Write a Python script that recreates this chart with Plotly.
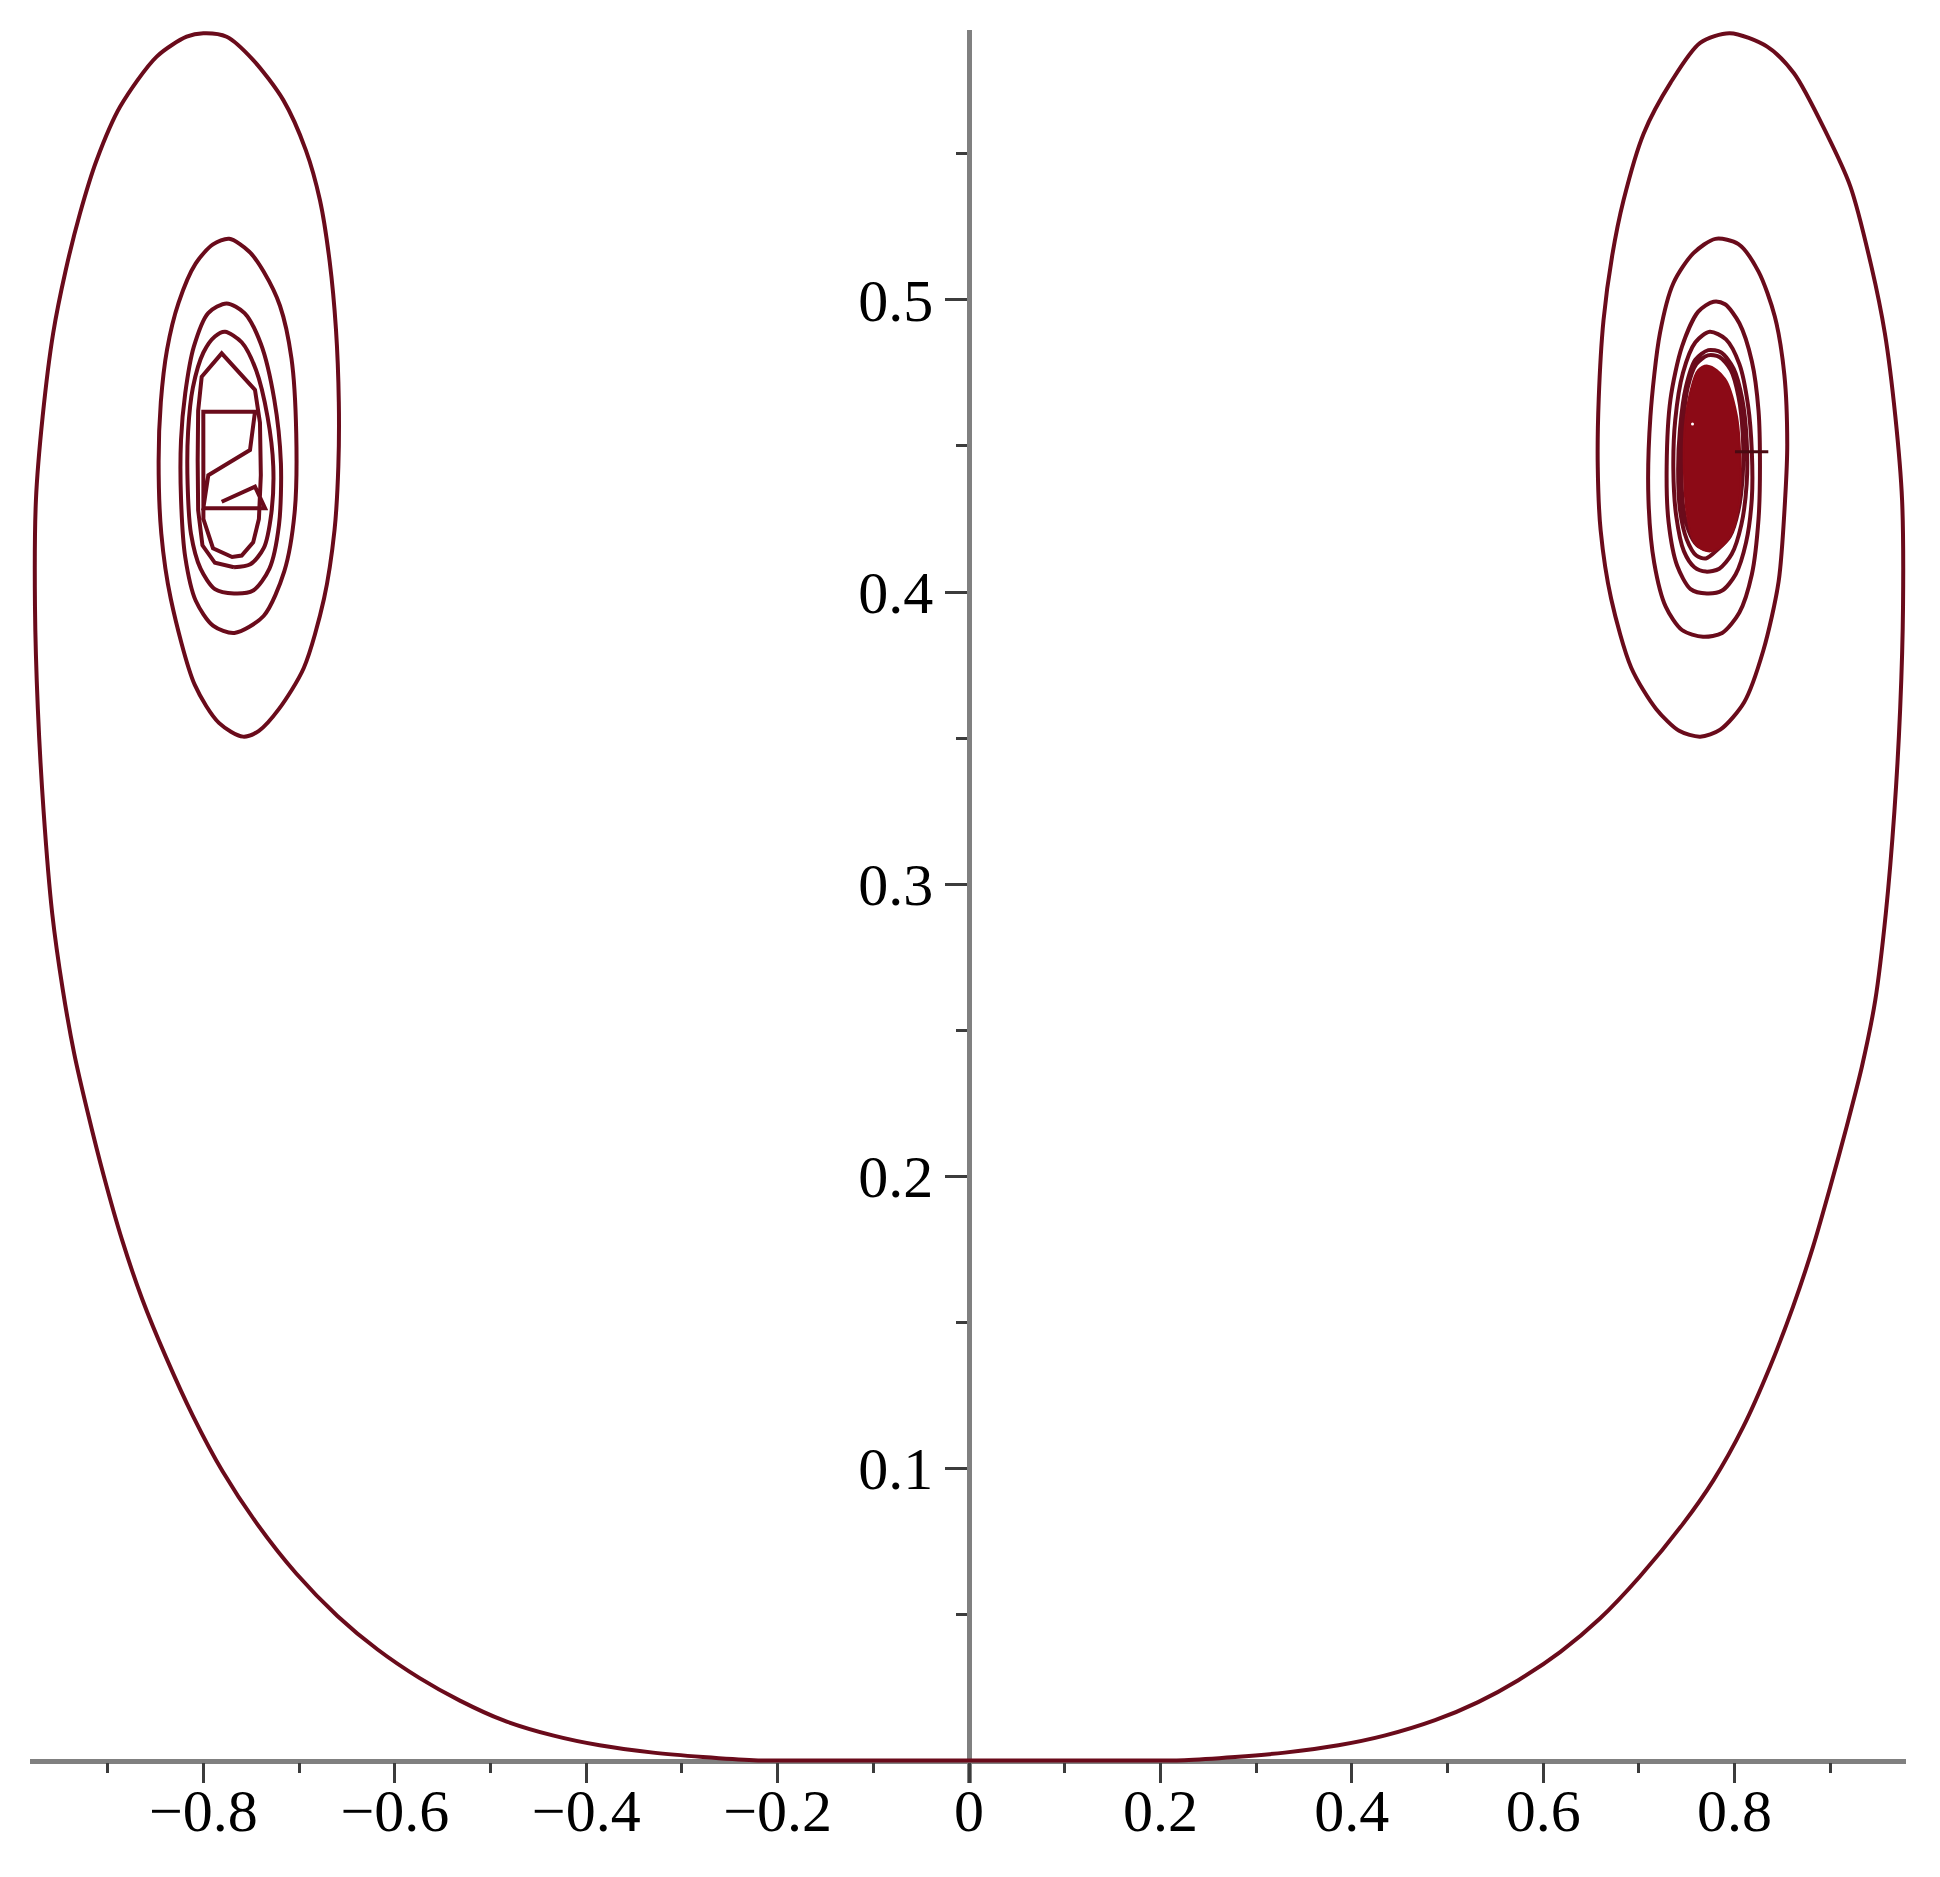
import plotly.graph_objects as go

# ---------------- data ----------------
x_tick_vals = [-0.8, -0.6, -0.4, -0.2, 0, 0.2, 0.4, 0.6, 0.8]
x_tick_text = ["\u22120.8", "\u22120.6", "\u22120.4", "\u22120.2", "0", "0.2", "0.4", "0.6", "0.8"]
x_minor_vals = [-0.9, -0.7, -0.5, -0.3, -0.1, 0.1, 0.3, 0.5, 0.7, 0.9]
y_tick_vals = [0.1, 0.2, 0.3, 0.4, 0.5]
y_tick_text = ["0.1", "0.2", "0.3", "0.4", "0.5"]
y_minor_vals = [0.05, 0.15, 0.25, 0.35, 0.45, 0.55]

# trajectory going right from the origin and spiralling into the right focus
right_x = [0.000, 0.100, 0.200, 0.225, 0.278, 0.330, 0.386, 0.434, 0.487, 0.532, 0.574, 0.618, 0.659, 0.701,
           0.746, 0.778, 0.809, 0.837, 0.861, 0.882, 0.900, 0.917, 0.933, 0.947, 0.958, 0.967, 0.973, 0.976,
           0.975, 0.968, 0.957, 0.943, 0.921, 0.896, 0.862, 0.834, 0.795, 0.764, 0.733, 0.705, 0.684, 0.672,
           0.663, 0.658, 0.657, 0.660, 0.671, 0.692, 0.718, 0.742, 0.764,
           0.785, 0.810, 0.830, 0.846, 0.853, 0.855, 0.852, 0.842, 0.825, 0.804, 0.780,
           0.757, 0.736, 0.722, 0.712, 0.710, 0.716, 0.728, 0.745, 0.767,
           0.787, 0.805, 0.818, 0.825, 0.8265, 0.825, 0.818, 0.805, 0.790, 0.778,
           0.762, 0.745, 0.733, 0.729, 0.731, 0.740, 0.754, 0.771,
           0.787, 0.801, 0.812, 0.818, 0.818, 0.814, 0.805, 0.791, 0.774,
           0.759, 0.746, 0.738, 0.736, 0.739, 0.747, 0.758, 0.770,
           0.784, 0.797, 0.807, 0.8126, 0.8126, 0.808, 0.799, 0.786, 0.7725,
           0.759, 0.749, 0.743, 0.741, 0.743, 0.750, 0.760, 0.770,
           0.782, 0.795, 0.804, 0.8085, 0.8085, 0.804, 0.796, 0.784, 0.772,
           0.760, 0.751, 0.746, 0.7445, 0.746, 0.752, 0.761, 0.771]
right_y = [0.0000, 0.0000, 0.0000, 0.0001, 0.0012, 0.0027, 0.0052, 0.0085, 0.0138, 0.0200, 0.0275, 0.0372, 0.0485, 0.0630,
           0.0810, 0.0960, 0.1142, 0.1348, 0.1553, 0.1759, 0.1964, 0.2169, 0.2375, 0.2603, 0.2900, 0.3250, 0.3600, 0.3950,
           0.4315, 0.4600, 0.4886, 0.5114, 0.5388, 0.5570, 0.5776, 0.5867, 0.5913, 0.5880, 0.5743, 0.5570, 0.5342, 0.5150,
           0.4930, 0.4660, 0.4430, 0.4212, 0.3977, 0.3741, 0.3600, 0.3525, 0.3505,
           0.3529, 0.3623, 0.3800, 0.4036, 0.4330, 0.4507, 0.4743, 0.4943, 0.5097, 0.5191, 0.5209,
           0.5160, 0.5057, 0.4886, 0.4600, 0.4315, 0.4100, 0.3950, 0.3870, 0.3847,
           0.3860, 0.3930, 0.4060, 0.4250, 0.4429, 0.4620, 0.4790, 0.4920, 0.4985, 0.4994,
           0.4960, 0.4840, 0.4660, 0.4429, 0.4240, 0.4090, 0.4010, 0.3995,
           0.4005, 0.4060, 0.4170, 0.4320, 0.4480, 0.4640, 0.4780, 0.4865, 0.4891,
           0.4855, 0.4750, 0.4590, 0.4420, 0.4260, 0.4140, 0.4085, 0.4070,
           0.4080, 0.4130, 0.4230, 0.4370, 0.4520, 0.4660, 0.4765, 0.4820, 0.4828,
           0.4795, 0.4700, 0.4560, 0.4420, 0.4280, 0.4180, 0.4125, 0.4115,
           0.4145, 0.4190, 0.4280, 0.4400, 0.4540, 0.4670, 0.4760, 0.4805, 0.4810,
           0.4780, 0.4700, 0.4570, 0.4430, 0.4300, 0.4210, 0.4160, 0.4145]

# densely wound core of the right spiral
core_x = [0.772, 0.790, 0.802, 0.806, 0.805, 0.797, 0.784, 0.771, 0.758, 0.750, 0.747, 0.748, 0.754, 0.762, 0.772]
core_y = [0.4775, 0.4730, 0.4610, 0.4460, 0.4310, 0.4200, 0.4150, 0.4140, 0.4170, 0.4270, 0.4420, 0.4570, 0.4690, 0.4760, 0.4775]
right_tick_x = [0.8004, 0.8352]
right_tick_y = [0.4480, 0.4480]
right_dot_x = [0.756]
right_dot_y = [0.4575]

# trajectory going left from the origin and spiralling into the left focus
left_x = [0.000, -0.100, -0.200, -0.225, -0.278, -0.330, -0.386, -0.434, -0.487, -0.532, -0.574, -0.618, -0.660,
          -0.703, -0.745, -0.780, -0.811, -0.839, -0.864, -0.885, -0.904, -0.921, -0.935, -0.947, -0.958, -0.967,
          -0.973, -0.976, -0.975, -0.968, -0.957, -0.944, -0.929, -0.9115, -0.8871, -0.8488, -0.8175, -0.8001,
          -0.7757, -0.7479, -0.7165, -0.693, -0.6782, -0.668, -0.6615, -0.6585, -0.659, -0.663, -0.674, -0.695,
          -0.721, -0.742, -0.7586,
          -0.7838, -0.809, -0.8341, -0.844, -0.8468, -0.8445, -0.838, -0.826, -0.808, -0.790, -0.773,
          -0.752, -0.7371, -0.720, -0.708, -0.703, -0.7047, -0.7155, -0.7371, -0.7676,
          -0.790, -0.808, -0.819, -0.8234, -0.8234, -0.819, -0.810, -0.795, -0.7757,
          -0.757, -0.740, -0.726, -0.719, -0.721, -0.731, -0.748, -0.768,
          -0.788, -0.803, -0.813, -0.8165, -0.816, -0.811, -0.800, -0.788, -0.7774,
          -0.760, -0.745, -0.733, -0.727, -0.729, -0.737, -0.751, -0.768]
left_y = [0.0000, 0.0000, 0.0000, 0.0001, 0.0012, 0.0027, 0.0052, 0.0085, 0.0138, 0.0205, 0.0282, 0.0380, 0.0495,
          0.0640, 0.0815, 0.0990, 0.1180, 0.1380, 0.1580, 0.1782, 0.2000, 0.2220, 0.2420, 0.2640, 0.2900, 0.3250,
          0.3600, 0.3950, 0.4315, 0.4600, 0.4886, 0.5100, 0.5296, 0.5479, 0.5661, 0.5833, 0.5901, 0.5913,
          0.5901, 0.5821, 0.5684, 0.5513, 0.5341, 0.5130, 0.4900, 0.4650, 0.4430, 0.4212, 0.3977, 0.3741,
          0.3600, 0.3525, 0.3505,
          0.3552, 0.3682, 0.3977, 0.4200, 0.4448, 0.4650, 0.4830, 0.4990, 0.5125, 0.5190, 0.5209,
          0.5165, 0.5097, 0.4980, 0.4800, 0.4543, 0.4272, 0.4071, 0.3918, 0.3860,
          0.3885, 0.3970, 0.4120, 0.4320, 0.4520, 0.4680, 0.4840, 0.4955, 0.4988,
          0.4955, 0.4850, 0.4660, 0.4440, 0.4230, 0.4080, 0.4005, 0.3995,
          0.4010, 0.4080, 0.4200, 0.4370, 0.4550, 0.4700, 0.4820, 0.4875, 0.4891,
          0.4855, 0.4760, 0.4600, 0.4430, 0.4270, 0.4150, 0.4095, 0.4085]

# innermost, jagged part of the left spiral
left_inner_x = [-0.768, -0.788, -0.801, -0.8055, -0.806, -0.8055, -0.8018, -0.7809, -0.7461, -0.7409, -0.740, -0.742,
                -0.748, -0.760, -0.770, -0.790, -0.800, -0.8001, -0.7461, -0.7513, -0.7949, -0.8001, -0.7356, -0.7461,
                -0.7809]
left_inner_y = [0.4085, 0.4100, 0.4160, 0.4280, 0.4450, 0.4620, 0.4737, 0.4817, 0.4692, 0.4580, 0.4400, 0.4250,
                0.4170, 0.4125, 0.4120, 0.4150, 0.4250, 0.4617, 0.4617, 0.4486, 0.4400, 0.4287, 0.4287, 0.4361,
                0.4309]

# ---------------- figure ----------------
LINE = "#6a0b1b"
FILL = "#8c0a16"

fig = go.Figure()
fig.add_trace(go.Scatter(x=right_x, y=right_y, mode="lines",
                         line=dict(color=LINE, width=4, shape="spline", smoothing=0.8), hoverinfo="skip"))
fig.add_trace(go.Scatter(x=core_x, y=core_y, mode="lines", fill="toself", fillcolor=FILL,
                         line=dict(color=FILL, width=2, shape="spline"), hoverinfo="skip"))
fig.add_trace(go.Scatter(x=right_tick_x, y=right_tick_y, mode="lines",
                         line=dict(color="#4a0a12", width=3), hoverinfo="skip"))
fig.add_trace(go.Scatter(x=right_dot_x, y=right_dot_y, mode="markers",
                         marker=dict(color="white", size=3), hoverinfo="skip"))
fig.add_trace(go.Scatter(x=left_x, y=left_y, mode="lines",
                         line=dict(color=LINE, width=4, shape="spline", smoothing=0.8), hoverinfo="skip"))
fig.add_trace(go.Scatter(x=left_inner_x, y=left_inner_y, mode="lines",
                         line=dict(color=LINE, width=4), hoverinfo="skip"))

x_range = [-0.9812, 0.9791]
y_range = [-0.0077, 0.5924]
x_axis_pos = (0 - y_range[0]) / (y_range[1] - y_range[0])
y_axis_pos = (0 - x_range[0]) / (x_range[1] - x_range[0])

tick_font = dict(family="Liberation Serif, Times New Roman, serif", size=60, color="black")
AXIS = "#808080"
TICK = "#3c3c3c"

# the page body adds an 8px margin, so the figure is 8px smaller and margins are shifted
fig.update_layout(
    width=1932, height=1869,
    margin=dict(l=22, r=34, t=22, b=94),
    paper_bgcolor="white", plot_bgcolor="white",
    showlegend=False,
    xaxis=dict(range=x_range, anchor="free", position=x_axis_pos,
               showgrid=False, zeroline=False, showline=True, linecolor=AXIS, linewidth=4.5,
               tickvals=x_tick_vals, ticktext=x_tick_text, ticks="outside", ticklen=20, tickwidth=3,
               tickcolor=TICK, tickfont=tick_font, layer="below traces", ticklabelstandoff=-24,
               minor=dict(tickvals=x_minor_vals, ticks="outside", ticklen=10, tickwidth=3, tickcolor=TICK,
                          showgrid=False)),
    yaxis=dict(range=y_range, anchor="free", position=y_axis_pos,
               showgrid=False, zeroline=False, showline=True, linecolor=AXIS, linewidth=4.5,
               tickvals=y_tick_vals, ticktext=y_tick_text, ticks="outside", ticklen=22, tickwidth=3,
               tickcolor=TICK, tickfont=tick_font, layer="below traces",
               minor=dict(tickvals=y_minor_vals, ticks="outside", ticklen=11, tickwidth=3, tickcolor=TICK,
                          showgrid=False)),
)

fig.write_html("out.html")
